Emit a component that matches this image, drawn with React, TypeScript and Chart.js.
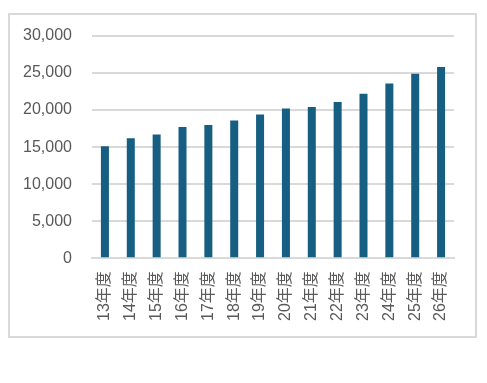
import React, { useEffect, useRef } from "react";
import { Chart, registerables } from "chart.js";

Chart.register(...registerables);

const categories: string[] = [
  "13年度", "14年度", "15年度", "16年度", "17年度", "18年度", "19年度",
  "20年度", "21年度", "22年度", "23年度", "24年度", "25年度", "26年度",
];
const values: number[] = [
  15100, 16200, 16700, 17700, 18000, 18600, 19400,
  20200, 20400, 21100, 22200, 23600, 24900, 25800,
];
const yMin = 0;
const yMax = 30000;
const yStep = 5000;

const FONT = "'Liberation Sans', Arial, 'Noto Sans CJK JP', sans-serif";

export default function App() {
  const ref = useRef<HTMLCanvasElement | null>(null);
  useEffect(() => {
    if (!ref.current) return;
    const chart = new Chart(ref.current, {
      type: "bar",
      data: {
        labels: categories,
        datasets: [
          {
            data: values,
            backgroundColor: "#175f82",
            borderColor: "#175f82",
            borderWidth: 0,
            barPercentage: 0.62,
            categoryPercentage: 0.5,
          },
        ],
      },
      options: {
        animation: false,
        responsive: false,
        maintainAspectRatio: false,
        layout: { autoPadding: false, padding: { left: 13, right: 21, top: 21, bottom: 2 } },
        plugins: { legend: { display: false }, tooltip: { enabled: false } },
        scales: {
          x: {
            offset: true,
            afterFit: (scale: any) => {
              scale.paddingLeft = 0;
              scale.paddingRight = 0;
            },
            grid: { display: false, drawTicks: false },
            border: { display: true, color: "#d9d9d9", width: 2 },
            ticks: {
              minRotation: 90,
              maxRotation: 90,
              autoSkip: false,
              padding: 13,
              color: "#595959",
              font: { family: FONT, size: 16 },
            },
          },
          y: {
            min: yMin,
            max: yMax,
            afterFit: (scale: any) => {
              scale.width = 69;
              scale.paddingTop = 0;
              scale.paddingBottom = 0;
            },
            grid: { color: "#d9d9d9", lineWidth: 2, drawTicks: false },
            border: { display: false },
            ticks: {
              stepSize: yStep,
              padding: 20,
              color: "#595959",
              font: { family: FONT, size: 16 },
              callback: (v: any) => Number(v).toLocaleString("en-US"),
            },
          },
        },
      },
    });
    return () => chart.destroy();
  }, []);
  return (
    <div
      style={{
        position: "absolute",
        left: 8,
        top: 13,
        width: 469,
        height: 325,
        boxSizing: "border-box",
        border: "2px solid #d9d9d9",
        background: "#fff",
      }}
    >
      <canvas ref={ref} width={465} height={321} style={{ display: "block" }} />
    </div>
  );
}
